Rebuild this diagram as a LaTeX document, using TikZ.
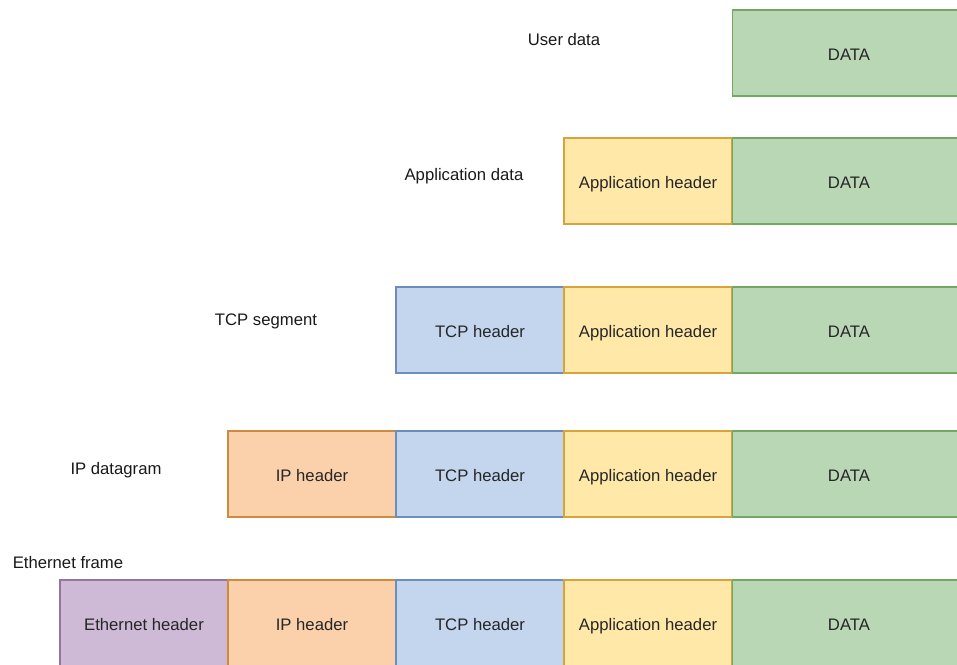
\documentclass[tikz,border=0pt]{standalone}
\usepackage{fontspec}
\setmainfont{Liberation Sans}
\usepackage{xcolor}
\usetikzlibrary{positioning}

\definecolor{datafill}{HTML}{B9D7B5}
\definecolor{datadraw}{HTML}{72A862}
\definecolor{appfill}{HTML}{FFE8A8}
\definecolor{appdraw}{HTML}{D6A33C}
\definecolor{tcpfill}{HTML}{C4D5EE}
\definecolor{tcpdraw}{HTML}{6C8EBF}
\definecolor{ipfill}{HTML}{FBD1AC}
\definecolor{ipdraw}{HTML}{D08A3E}
\definecolor{ethfill}{HTML}{CEB9D7}
\definecolor{ethdraw}{HTML}{9673A6}

\tikzset{
    blk/.style={rectangle, minimum width=3.36cm, minimum height=1.72cm, line width=0.6pt, inner sep=0pt, text height=9pt, text depth=0pt, text=black!85, font=\fontsize{9.5}{11}\selectfont},
    datablk/.style={blk, minimum width=4.68cm, fill=datafill, draw=datadraw},
    apphdr/.style={blk, fill=appfill, draw=appdraw},
    tcphdr/.style={blk, fill=tcpfill, draw=tcpdraw},
    iphdr/.style={blk, fill=ipfill, draw=ipdraw},
    ethhdr/.style={blk, fill=ethfill, draw=ethdraw},
    lbl/.style={inner sep=0pt, text=black!90, font=\fontsize{9.5}{11}\selectfont}
}

\begin{document}
\begin{tikzpicture}[x=0.02cm, y=-0.02cm]
        \useasboundingbox (0, 0) rectangle (957, 664);
        \clip (0, 0) rectangle (957, 664);

        % user data
        \node[lbl] (l0) at (564, 40) {User data};
        \node[datablk] (data0) at (849, 53) {DATA};

        % application data
        \node[lbl] (l1) at (464, 176) {Application data};
        \node[apphdr] (app1) at (648, 181) {Application header};
        \node[datablk] (data1) at (849, 181) {DATA};

        % tcp segment
        \node[lbl] (l2) at (266, 321) {TCP segment};
        \node[tcphdr] (tcp2) at (480, 330) {TCP header};
        \node[apphdr] (app2) at (648, 330) {Application header};
        \node[datablk] (data2) at (849, 330) {DATA};

        % ip datagram
        \node[lbl] (l3) at (116, 470) {IP datagram};
        \node[iphdr] (ip3) at (312, 474) {IP header};
        \node[tcphdr] (tcp3) at (480, 474) {TCP header};
        \node[apphdr] (app3) at (648, 474) {Application header};
        \node[datablk] (data3) at (849, 474) {DATA};

        % ethernet frame
        \node[lbl] (l4) at (68, 563) {Ethernet frame};
        \node[ethhdr] (eth4) at (144, 623) {Ethernet header};
        \node[iphdr] (ip4) at (312, 623) {IP header};
        \node[tcphdr] (tcp4) at (480, 623) {TCP header};
        \node[apphdr] (app4) at (648, 623) {Application header};
        \node[datablk] (data4) at (849, 623) {DATA};
    \end{tikzpicture}
\end{document}
